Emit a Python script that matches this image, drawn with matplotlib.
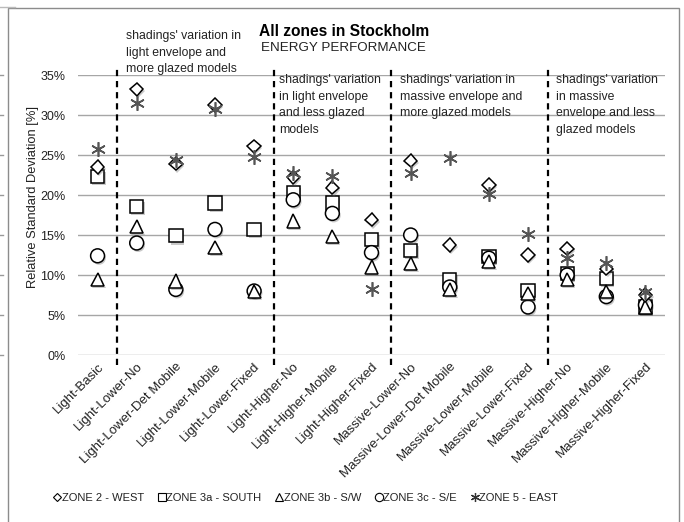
import numpy as np
import matplotlib
matplotlib.use('Agg')
import matplotlib.pyplot as plt
import matplotlib.patheffects as pe
import matplotlib.transforms as mtransforms
from matplotlib.patches import Rectangle
from matplotlib.lines import Line2D

plt.rcParams['font.family'] = ['Liberation Sans', 'DejaVu Sans']

# --- data (relative standard deviation, %) ---
categories = ['Light-Basic', 'Light-Lower-No', 'Light-Lower-Det Mobile',
              'Light-Lower-Mobile', 'Light-Lower-Fixed', 'Light-Higher-No',
              'Light-Higher-Mobile', 'Light-Higher-Fixed', 'Massive-Lower-No',
              'Massive-Lower-Det Mobile', 'Massive-Lower-Mobile',
              'Massive-Lower-Fixed', 'Massive-Higher-No',
              'Massive-Higher-Mobile', 'Massive-Higher-Fixed']

zone2_west = [23.5, 33.2, 23.9, 31.25, 26.1, 22.2, 20.9, 16.9, 24.3, 13.75, 21.25, 12.5, 13.3, 10.8, 7.5]
zone3a_south = [22.3, 18.6, 14.9, 19.0, 15.7, 20.3, 19.0, 14.4, 13.1, 9.4, 12.3, 8.1, 10.2, 9.6, 6.0]
zone3b_sw = [9.4, 16.1, 9.25, 13.4, 7.9, 16.75, 14.8, 11.0, 11.4, 8.2, 11.7, 7.7, 9.4, 7.9, 6.0]
zone3c_se = [12.4, 14.0, 8.2, 15.7, 8.0, 19.4, 17.7, 12.8, 15.0, 8.5, 12.1, 6.0, 10.0, 7.3, 6.25]
zone5_east = [25.8, 31.5, 24.4, 30.7, 24.8, 22.8, 22.4, 8.3, 22.7, 24.6, 20.1, 15.1, 12.1, 11.5, 7.9]

series_labels = ['ZONE 2 - WEST', 'ZONE 3a - SOUTH', 'ZONE 3b - S/W',
                 'ZONE 3c - S/E', 'ZONE 5 - EAST']

# group separators sit between these category indices
separators = [0.5, 4.5, 7.5, 11.5]
group_notes = ["shadings' variation in\nlight envelope and\nmore glazed models",
               "shadings' variation\nin light envelope\nand less glazed\nmodels",
               "shadings' variation in\nmassive envelope and\nmore glazed models",
               "shadings' variation\nin massive\nenvelope and less\nglazed models"]

yticks = [0, 5, 10, 15, 20, 25, 30, 35]

W, H = 684, 522
fig = plt.figure(figsize=(W / 100, H / 100), dpi=100)
ax = fig.add_axes([78 / W, 1 - 355 / H, (665 - 78) / W, (355 - 75) / H])

x = np.arange(len(categories))
shadow = [pe.SimplePatchShadow(offset=(1, -1.5), shadow_rgbFace='0.4', alpha=0.35), pe.Normal()]

# drawing order: square, circle, triangle, diamond, star
ax.plot(x, zone3a_south, ls='none', marker='s', ms=9.6, mfc='white', mec='black', mew=1.1,
        path_effects=shadow, zorder=3)
ax.plot(x, zone3c_se, ls='none', marker='o', ms=10, mfc='white', mec='black', mew=1.1,
        path_effects=shadow, zorder=4)
ax.plot(x, zone3b_sw, ls='none', marker='^', ms=9.5, mfc='white', mec='black', mew=1.1,
        path_effects=shadow, zorder=5)
ax.plot(x, zone2_west, ls='none', marker='D', ms=6.8, mfc='white', mec='black', mew=1.1,
        path_effects=shadow, zorder=6)
ax.plot(x, zone5_east, ls='none', marker=(6, 2, 0), ms=10.5, mec='#555555', mew=1.2, zorder=7)

ax.set_xlim(-0.5, len(categories) - 0.5)
ax.set_ylim(0, 35)
ax.set_yticks(yticks)
ax.set_yticklabels(['%d%%' % t for t in yticks], fontsize=9, color='#222222')
ax.yaxis.grid(True, color='#a6a6a6', lw=1)
ax.set_axisbelow(True)
ax.tick_params(axis='y', length=0, pad=9)
ax.tick_params(axis='x', length=0, pad=4)
ax.set_xticks(x)
ax.set_xticklabels(categories, rotation=45, ha='right', rotation_mode='anchor',
                   fontsize=9.5, color='#222222')
for s in ax.spines.values():
    s.set_visible(False)

ax.set_ylabel('Relative Standard Deviation [%]', fontsize=9.3, color='#222222')
ax.yaxis.set_label_coords(-39 / (665 - 78), (355 - 197) / (355 - 75))

for sep in separators:
    ax.plot([sep, sep], [-1.3, 35.9], color='black', lw=1.6, ls=(0, (2.8, 2.2)),
            clip_on=False, zorder=2)

# group annotations (figure pixel positions)
note_pos = [(126, 30), (279, 74), (400, 74), (556, 74)]
for (nx, ny), txt in zip(note_pos, group_notes):
    fig.text(nx / W, 1 - ny / H, txt, ha='left', va='top', fontsize=8.8,
             linespacing=1.52, color='#222222')

fig.text(344 / W, 1 - 31 / H, 'All zones in Stockholm', ha='center', va='center',
         fontsize=11.2, fontweight='bold', color='black')
fig.text(343 / W, 1 - 48 / H, 'ENERGY PERFORMANCE', ha='center', va='center',
         fontsize=9.6, color='#222222')

# legend
handles = [Line2D([], [], ls='none', marker='D', ms=4, mfc='white', mec='black', mew=0.8),
           Line2D([], [], ls='none', marker='s', ms=6, mfc='white', mec='black', mew=0.8),
           Line2D([], [], ls='none', marker='^', ms=6, mfc='white', mec='black', mew=0.8),
           Line2D([], [], ls='none', marker='o', ms=6, mfc='white', mec='black', mew=0.8),
           Line2D([], [], ls='none', marker=(6, 2, 0), ms=6.5, mec='#333333', mew=0.9)]
fig.legend(handles, series_labels, loc='center', bbox_to_anchor=(306 / W, 1 - 498 / H),
           ncol=5, frameon=False, fontsize=8.0, handlelength=0.6, handletextpad=0.1,
           columnspacing=1.3, labelcolor='#222222')

# outer chart frame and neighbouring-chart stubs
fig.patches.append(Rectangle((8 / W, -0.05), (679 - 8) / W, 1.05 - 8 / H,
                             transform=fig.transFigure, fill=False,
                             edgecolor='#8c8c8c', lw=1))
fig.add_artist(Line2D([0, 15 / W], [1 - 7 / H, 1 - 7 / H], transform=fig.transFigure,
                      color='#bbbbbb', lw=1))
stub_tr = mtransforms.blended_transform_factory(fig.transFigure, ax.transData)
for t in yticks:
    fig.add_artist(Line2D([0, 3 / W], [t, t], transform=stub_tr, color='#999999', lw=1))

fig.savefig('out.png', dpi=100)
